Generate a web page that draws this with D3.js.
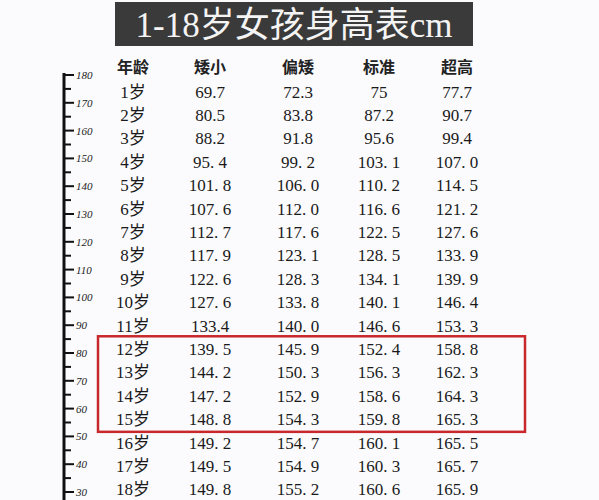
<!DOCTYPE html>
<html><head><meta charset="utf-8">
<script src="https://cdn.jsdelivr.net/npm/d3@7"></script>
<style>body{margin:0;background:#fbfbfd}</style>
</head><body>
<svg id="c" width="599" height="500"></svg>
<script>
const title = '1-18岁女孩身高表cm';
const headers = ['年龄', '矮小', '偏矮', '标准', '超高'];
const ages = ['1岁','2岁','3岁','4岁','5岁','6岁','7岁','8岁','9岁','10岁','11岁','12岁','13岁','14岁','15岁','16岁','17岁','18岁'];
const short = ['69.7','80.5','88.2','95. 4','101. 8','107. 6','112. 7','117. 9','122. 6','127. 6','133.4','139. 5','144. 2','147. 2','148. 8','149. 2','149. 5','149. 8'];
const belowAvg = ['72.3','83.8','91.8','99. 2','106. 0','112. 0','117. 6','123. 1','128. 3','133. 8','140. 0','145. 9','150. 3','152. 9','154. 3','154. 7','154. 9','155. 2'];
const standard = ['75','87.2','95.6','103. 1','110. 2','116. 6','122. 5','128. 5','134. 1','140. 1','146. 6','152. 4','156. 3','158. 6','159. 8','160. 1','160. 3','160. 6'];
const tall = ['77.7','90.7','99.4','107. 0','114. 5','121. 2','127. 6','133. 9','139. 9','146. 4','153. 3','158. 8','162. 3','164. 3','165. 3','165. 5','165. 7','165. 9'];
const rulerLabels = [180,170,160,150,140,130,120,110,100,90,80,70,60,50,40,30];
const highlighted = ['12岁','13岁','14岁','15岁'];

const svg = d3.select('#c');
const cjk = '"Noto Sans CJK SC", sans-serif';
const serif = '"Liberation Serif", "DejaVu Serif", serif';

// title
svg.append('rect').attr('x', 115).attr('y', 2).attr('width', 358).attr('height', 44).attr('fill', '#3a3a3a');
svg.append('text').attr('x', 294).attr('y', 37).attr('text-anchor', 'middle')
  .attr('fill', '#f4f4f4').attr('font-size', 35).attr('font-family', serif + ',' + cjk).text(title);

// ruler
const ry = d3.scaleLinear().domain([180, 30]).range([75, 492]);
const ticks = d3.range(30, 181, 5);
svg.append('line').attr('x1', 64).attr('x2', 64).attr('y1', 73).attr('y2', 500)
  .attr('stroke', '#111').attr('stroke-width', 3);
svg.selectAll('.tk').data(ticks).join('line')
  .attr('x1', 64).attr('x2', d => d % 10 === 0 ? 74 : 71)
  .attr('y1', d => ry(d)).attr('y2', d => ry(d))
  .attr('stroke', '#111').attr('stroke-width', 2);
svg.selectAll('.rl').data(rulerLabels).join('text')
  .attr('x', 76).attr('y', d => ry(d) + 4).attr('font-size', 11).attr('font-style', 'italic')
  .attr('fill', '#222').attr('font-family', serif).text(d => d);

// table
const cols = [133, 210, 298, 379, 457];
const y = d3.scaleBand().domain(ages).range([80, 501]);
svg.selectAll('.hd').data(headers).join('text')
  .attr('x', (d, i) => cols[i]).attr('y', 73).attr('text-anchor', 'middle')
  .attr('font-size', 16).attr('font-weight', 'bold').attr('font-family', cjk).attr('fill', '#222').text(d => d);

const series = [ages, short, belowAvg, standard, tall];
series.forEach((arr, ci) => {
  svg.selectAll('.c' + ci).data(arr).join('text')
    .attr('x', cols[ci]).attr('y', (d, i) => y(ages[i]) + y.bandwidth() / 2 + 6)
    .attr('text-anchor', 'middle').attr('font-size', 17)
    .attr('font-family', serif + ',' + cjk).attr('fill', '#1a1a1a')
    .attr('xml:space', 'preserve').style('white-space', 'pre').text(d => d);
});

// highlight box
const h0 = y(highlighted[0]), h1 = y(highlighted[highlighted.length - 1]) + y.bandwidth();
svg.append('rect').attr('x', 98).attr('y', h0 - 1).attr('width', 427).attr('height', h1 - h0 + 2)
  .attr('fill', 'none').attr('stroke', '#c8282c').attr('stroke-width', 2.5);
</script>
</body></html>
